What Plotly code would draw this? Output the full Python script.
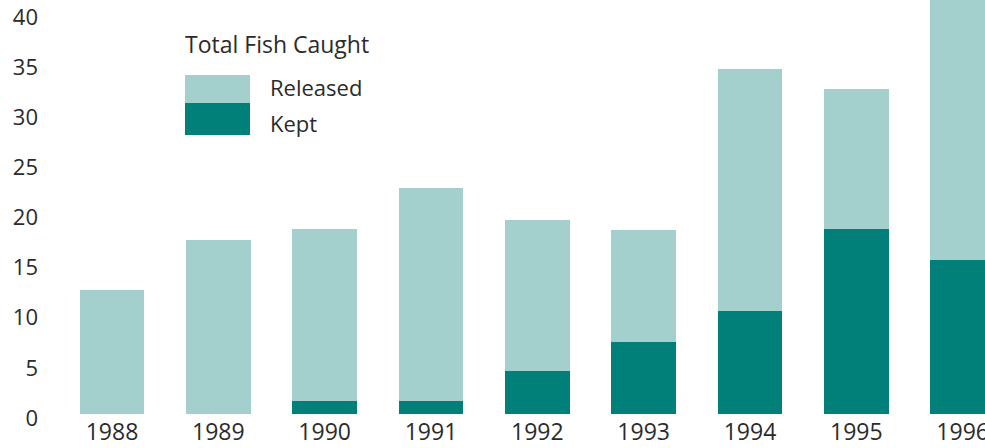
import plotly.graph_objects as go

# Fish caught per year, split by what was kept and what was released
years = [1988, 1989, 1990, 1991, 1992, 1993, 1994, 1995, 1996]
kept = [0, 0, 1.3, 1.3, 4.3, 7.2, 10.3, 18.4, 15.4]
released = [12.4, 17.3, 17.1, 21.2, 15.0, 11.15, 24.1, 14.0, 29.6]

y_ticks = [0, 5, 10, 15, 20, 25, 30, 35, 40]

LIGHT = "#A3CFCC"
DARK = "#008078"
TEXT = "#2b2b2b"
FONT = "Open Sans"

W, H = 985, 448
ML, MR, MT, MB = 45, 0, 0, 34
PW, PH = W - ML - MR, H - MT - MB

fig = go.Figure()
fig.add_trace(go.Bar(x=years, y=kept, name="Kept", marker_color=DARK,
                     marker_line_width=0))
fig.add_trace(go.Bar(x=years, y=released, name="Released", marker_color=LIGHT,
                     marker_line_width=0))


def px_x(px):
    return (px - ML) / PW


def px_y(py):
    return (H - MB - py) / PH


# Hand-built legend block with large swatches
shapes = [
    dict(type="rect", xref="paper", yref="paper", x0=px_x(185), x1=px_x(250),
         y0=px_y(103), y1=px_y(75), fillcolor=LIGHT, line_width=0),
    dict(type="rect", xref="paper", yref="paper", x0=px_x(185), x1=px_x(250),
         y0=px_y(135), y1=px_y(103), fillcolor=DARK, line_width=0),
]
annotations = [
    dict(text="Total Fish Caught", xref="paper", yref="paper", x=px_x(183),
         y=px_y(44), xanchor="left", yanchor="middle", showarrow=False,
         font=dict(family=FONT, size=23, color=TEXT)),
    dict(text="Released", xref="paper", yref="paper", x=px_x(268),
         y=px_y(87), xanchor="left", yanchor="middle", showarrow=False,
         font=dict(family=FONT, size=22, color=TEXT)),
    dict(text="Kept", xref="paper", yref="paper", x=px_x(268),
         y=px_y(123), xanchor="left", yanchor="middle", showarrow=False,
         font=dict(family=FONT, size=22, color=TEXT)),
]

fig.update_layout(
    width=W, height=H,
    margin=dict(l=ML, r=MR, t=MT, b=MB, pad=0),
    barmode="stack",
    bargap=0.389,
    showlegend=False,
    plot_bgcolor="white",
    paper_bgcolor="white",
    shapes=shapes,
    annotations=annotations,
    font=dict(family=FONT, size=22, color=TEXT),
)
fig.update_xaxes(
    range=[1987.37, 1996.21],
    tickmode="array", tickvals=years, ticktext=[str(y) for y in years],
    showgrid=False, zeroline=False, showline=False, ticks="",
    ticklabelstandoff=2, ticklabeloverflow="allow", automargin=False,
    tickfont=dict(family=FONT, size=23, color=TEXT),
)
fig.update_yaxes(
    range=[0, PH / 10.03],
    tickmode="array", tickvals=y_ticks,
    showgrid=False, zeroline=False, showline=False, ticks="",
    ticklabelstandoff=6, ticklabelshift=4, ticklabeloverflow="allow",
    automargin=False,
    tickfont=dict(family=FONT, size=22, color=TEXT),
)

fig.write_html("out.html")
